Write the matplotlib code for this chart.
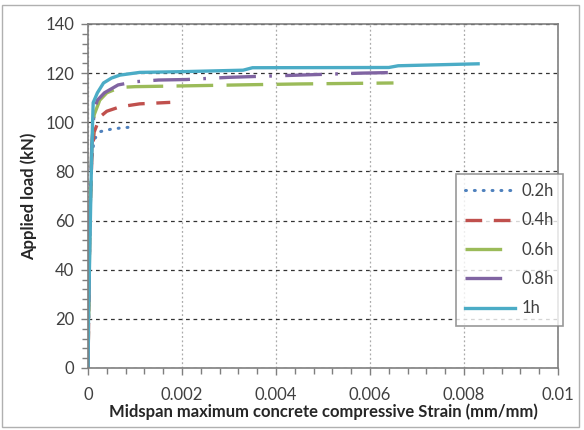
import matplotlib
matplotlib.use("Agg")
import matplotlib.pyplot as plt
from matplotlib.patches import Rectangle
from matplotlib.ticker import MultipleLocator

plt.rcParams['font.family'] = ['Lato', 'DejaVu Sans']

# strain (mm/mm) vs applied load (kN) for each depth ratio
x_02 = [0, 0.00002, 0.00004, 0.00008, 0.00013, 0.00026, 0.00047, 0.0007, 0.0009]
y_02 = [0, 30, 60, 85, 93, 96.2, 97.1, 97.7, 98]

x_04 = [0, 0.00002, 0.00004, 0.00008, 0.00013, 0.00026, 0.0004, 0.00068, 0.0011, 0.00175]
y_04 = [0, 30, 60, 85, 96, 102.3, 104.5, 106.3, 107.5, 108.1]

x_06 = [0, 0.00002, 0.00004, 0.00008, 0.00013, 0.00025, 0.0004, 0.00068, 0.001, 0.002,
        0.0035, 0.0045, 0.0055, 0.0065]
y_06 = [0, 30, 60, 90, 103, 109, 112, 114.2, 114.5, 114.8, 115.3, 115.6, 115.8, 116]

x_08 = [0, 0.00002, 0.00004, 0.00008, 0.00013, 0.0002, 0.00035, 0.00064, 0.001, 0.0015,
        0.0021, 0.003, 0.0035, 0.0045, 0.0058, 0.0066]
y_08 = [0, 30, 60, 90, 105, 109, 112, 115.2, 116.5, 117.2, 117.4, 118.3, 118.6, 119.2, 120, 120.3]

x_1 = [0, 0.00001, 0.00003, 0.00005, 0.00007, 0.00009, 0.00011, 0.0002, 0.00033, 0.0005,
       0.00068, 0.0011, 0.002, 0.0033, 0.0035, 0.0064, 0.0066, 0.0083]
y_1 = [0, 20, 40, 60, 80, 95, 108, 112, 116, 118, 119.2, 120.3, 120.6, 121.2, 122.2, 122.3, 123, 123.8]

fig = plt.figure(figsize=(5.84, 4.30), dpi=100)
ax = fig.add_axes([0.1507, 0.1442, 0.8048, 0.80])

# outer chart border
fig.patches.append(Rectangle((0.004, 0.008), 0.988, 0.98, transform=fig.transFigure,
                             fill=False, edgecolor='#b0b0b0', linewidth=1))

ax.plot(x_02, y_02, color='#4F81BD', lw=2.2, dashes=(0.3, 2.6), dash_capstyle='round', label='0.2h')
ax.plot(x_04, y_04, color='#C0504D', lw=2.4, dashes=(5, 3.5), label='0.4h')
ax.plot(x_06, y_06, color='#9BBB59', lw=2.4, dashes=(11, 4), label='0.6h')
ax.plot(x_08, y_08, color='#8064A2', lw=2.4, dashes=(11, 4, 0.8, 4), label='0.8h')
ax.plot(x_1, y_1, color='#4BACC6', lw=2.4, label='1h')

ax.set_xlim(0, 0.01)
ax.set_ylim(0, 140)
ax.xaxis.set_major_locator(MultipleLocator(0.002))
ax.xaxis.set_minor_locator(MultipleLocator(0.0004))
ax.yaxis.set_major_locator(MultipleLocator(20))
ax.yaxis.set_minor_locator(MultipleLocator(4))
ax.set_xticks([0, 0.002, 0.004, 0.006, 0.008, 0.01])
ax.set_xticklabels(['0', '0.002', '0.004', '0.006', '0.008', '0.01'])

ax.grid(axis='y', which='major', color='#333333', linestyle=(0, (3, 3)), linewidth=0.9)
ax.grid(axis='x', which='major', color='#aaaaaa', linestyle=(0, (1.5, 2)), linewidth=0.9)
ax.set_axisbelow(True)

for s in ax.spines.values():
    s.set_color('#7f7f7f')
    s.set_linewidth(1.2)
ax.tick_params(which='both', direction='out', color='#7f7f7f', width=1, labelsize=12,
               labelcolor='#404040')
ax.tick_params(which='major', length=5, pad=5)
ax.tick_params(which='minor', length=4)
ax.tick_params(axis='x', which='major', pad=9)

ax.set_xlabel('Midspan maximum concrete compressive Strain (mm/mm)', fontsize=12,
              fontweight='bold', color='#262626', labelpad=0)
ax.set_ylabel('Applied load (kN)', fontsize=12, fontweight='bold', color='#262626', labelpad=6)

leg = ax.legend(loc='upper left', bbox_to_anchor=(0.783, 0.564), fontsize=12,
                handlelength=3.0, labelspacing=0.8, fancybox=False, borderpad=0.55,
                handletextpad=0.4, borderaxespad=0)
leg.get_frame().set_edgecolor('#7f7f7f')
leg.get_frame().set_linewidth(1.2)
for t in leg.get_texts():
    t.set_color('#404040')

fig.savefig('out.png', dpi=100)
